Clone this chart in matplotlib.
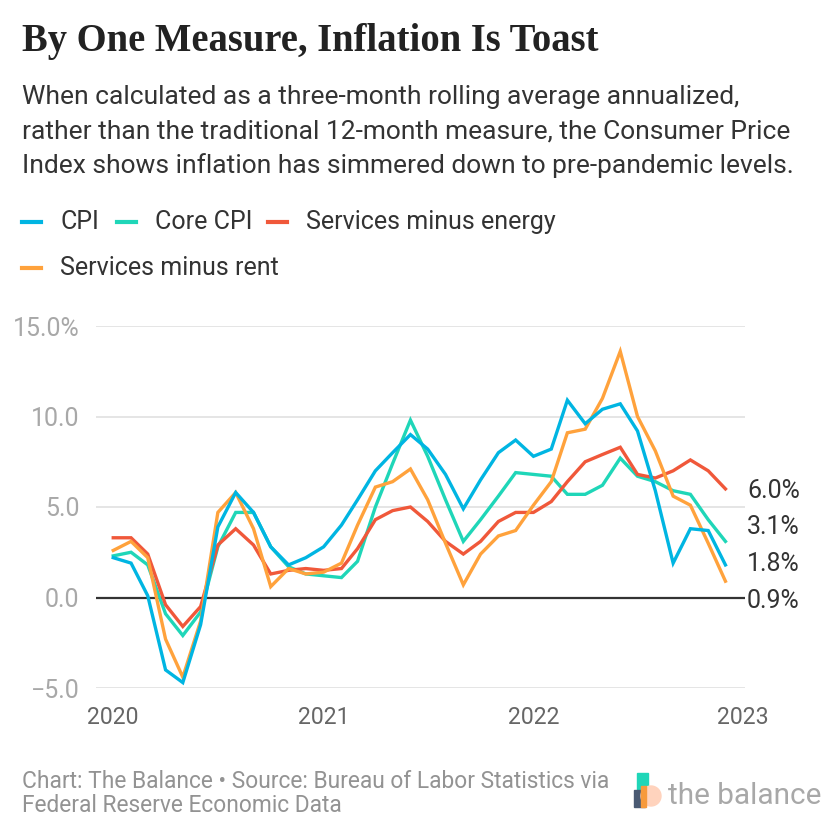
import numpy as np
import pandas as pd
import matplotlib
matplotlib.use("Agg")
import matplotlib.pyplot as plt
import matplotlib.dates as mdates
from matplotlib.lines import Line2D
from matplotlib.patches import Rectangle, Circle

plt.rcParams['font.family'] = ['Roboto', 'DejaVu Sans']

# monthly, Jan 2020 - Dec 2022, three-month rolling average annualized (%)
months = pd.date_range("2020-01-01", periods=36, freq="MS")
cpi = [2.2, 1.9, 0.1, -4.0, -4.7, -1.5, 3.9, 5.8, 4.7, 2.8, 1.8, 2.2,
       2.8, 4.0, 5.4, 7.0, 8.0, 9.0, 8.2, 6.8, 4.9, 6.5, 8.0, 8.7,
       7.8, 8.2, 10.9, 9.6, 10.4, 10.7, 9.2, 5.9, 1.9, 3.8, 3.7, 1.8]
core_cpi = [2.3, 2.5, 1.8, -0.9, -2.1, -0.8, 2.8, 4.7, 4.7, 2.8, 1.7, 1.3,
            1.2, 1.1, 2.0, 5.0, 7.4, 9.8, 7.8, 5.4, 3.1, 4.3, 5.6, 6.9,
            6.8, 6.7, 5.7, 5.7, 6.2, 7.7, 6.7, 6.4, 5.9, 5.7, 4.3, 3.1]
serv_minus_energy = [3.3, 3.3, 2.4, -0.4, -1.6, -0.5, 2.9, 3.8, 2.9, 1.3, 1.5, 1.6,
                     1.5, 1.6, 2.7, 4.3, 4.8, 5.0, 4.2, 3.1, 2.4, 3.1, 4.2, 4.7,
                     4.7, 5.3, 6.4, 7.5, 7.9, 8.3, 6.8, 6.6, 7.0, 7.6, 7.0, 6.0]
serv_minus_rent = [2.6, 3.1, 2.2, -2.3, -4.4, -1.3, 4.7, 5.8, 3.8, 0.6, 1.6, 1.3,
                   1.4, 1.9, 4.0, 6.1, 6.4, 7.1, 5.4, 3.0, 0.7, 2.4, 3.4, 3.7,
                   5.1, 6.4, 9.1, 9.3, 11.0, 13.6, 10.0, 8.1, 5.6, 5.1, 3.0, 0.9]

series_names = ["CPI", "Core CPI", "Services minus energy", "Services minus rent"]
colors = ["#00b5e2", "#1fd6b8", "#f0583a", "#ffa23c"]
end_labels = ["6.0%", "3.1%", "1.8%", "0.9%"]
year_ticks = ["2020", "2021", "2022", "2023"]
y_ticks = [-5, 0, 5, 10, 15]
y_ticklabels = ["\u22125.0", "0.0", "5.0", "10.0", "15.0%"]

W = H = 840
fig = plt.figure(figsize=(8.4, 8.4), dpi=100)

def fx(px):
    return px / W

def fy(py):
    return 1 - py / H

ax = fig.add_axes([fx(96), fy(688), fx(745) - fx(96), fy(326) - fy(688)])

data = dict(zip(series_names, [cpi, core_cpi, serv_minus_energy, serv_minus_rent]))
draw_order = ["Core CPI", "Services minus energy", "Services minus rent", "CPI"]
for name in draw_order:
    c = colors[series_names.index(name)]
    ax.plot(months, data[name], color=c, lw=2.4, solid_joinstyle="miter", zorder=3)

ax.set_ylim(-5, 15)
ax.set_xlim(pd.Timestamp("2019-12-02"), pd.Timestamp("2023-01-04"))
ax.set_yticks(y_ticks)
ax.set_yticklabels(y_ticklabels)
ax.set_xticks([pd.Timestamp(y + "-01-01") for y in year_ticks])
ax.set_xticklabels(year_ticks)
ax.grid(axis="y", color="#e3e3e3", lw=1.3)
ax.axhline(0, color="#333333", lw=1.6, zorder=2)
for s in ax.spines.values():
    s.set_visible(False)
ax.tick_params(axis="both", length=0)
ax.tick_params(axis="y", labelsize=18, labelcolor="#a8a8a8", pad=12)
ax.tick_params(axis="x", labelsize=16.6, labelcolor="#666666", pad=13)

# end labels, spread so they do not overlap
last_vals = [v[-1] for v in (serv_minus_energy, core_cpi, cpi, serv_minus_rent)]
top = last_vals[0] - 0.1
for k, lab in enumerate(end_labels):
    ax.text(1.003, top - k * 2.03, lab, transform=ax.get_yaxis_transform(),
            fontsize=18, color="#333333", va="center", ha="left")

# title and subtitle
fig.text(fx(22), fy(51), "By One Measure, Inflation Is Toast",
         family="Liberation Serif", weight="bold", fontsize=27.8, color="#222222",
         va="baseline")
sub = ["When calculated as a three-month rolling average annualized,",
       "rather than the traditional 12-month measure, the Consumer Price",
       "Index shows inflation has simmered down to pre-pandemic levels."]
for i, line in enumerate(sub):
    fig.text(fx(22), fy(104 + i * 34.5), line, fontsize=19, color="#333333",
             va="baseline")

# legend
leg_pos = [(22, 222), (117, 222), (268, 222), (22, 268)]
for (lx, ly), name, c in zip(leg_pos, series_names, colors):
    fig.add_artist(Line2D([fx(lx), fx(lx + 19)], [fy(ly), fy(ly)], color=c,
                          lw=3, transform=fig.transFigure))
    fig.text(fx(lx + 38), fy(ly), name, fontsize=18, color="#333333",
             va="center")

# footer
fig.text(fx(22), fy(788), "Chart: The Balance \u2022 Source: Bureau of Labor Statistics via",
         fontsize=16.4, color="#939393", va="baseline")
fig.text(fx(22), fy(812), "Federal Reserve Economic Data",
         fontsize=16.4, color="#939393", va="baseline")

# logo
fig.add_artist(Rectangle((fx(637), fy(800)), fx(11), fy(773) - fy(800),
                         color="#1fd6b8", transform=fig.transFigure))
fig.add_artist(Rectangle((fx(634), fy(807)), fx(11), fy(790) - fy(807),
                         color="#4a5a73", transform=fig.transFigure))
fig.add_artist(Circle((fx(651), fy(796)), fx(10), color="#ffd3bd",
                      transform=fig.transFigure))
fig.add_artist(Rectangle((fx(641), fy(807)), fx(5), fy(786) - fy(807),
                         color="#f79a3c", transform=fig.transFigure))
fig.text(fx(668), fy(804), "the balance", fontsize=21.4, color="#a8a8a8",
         va="baseline")

fig.savefig("out.png", dpi=100)
